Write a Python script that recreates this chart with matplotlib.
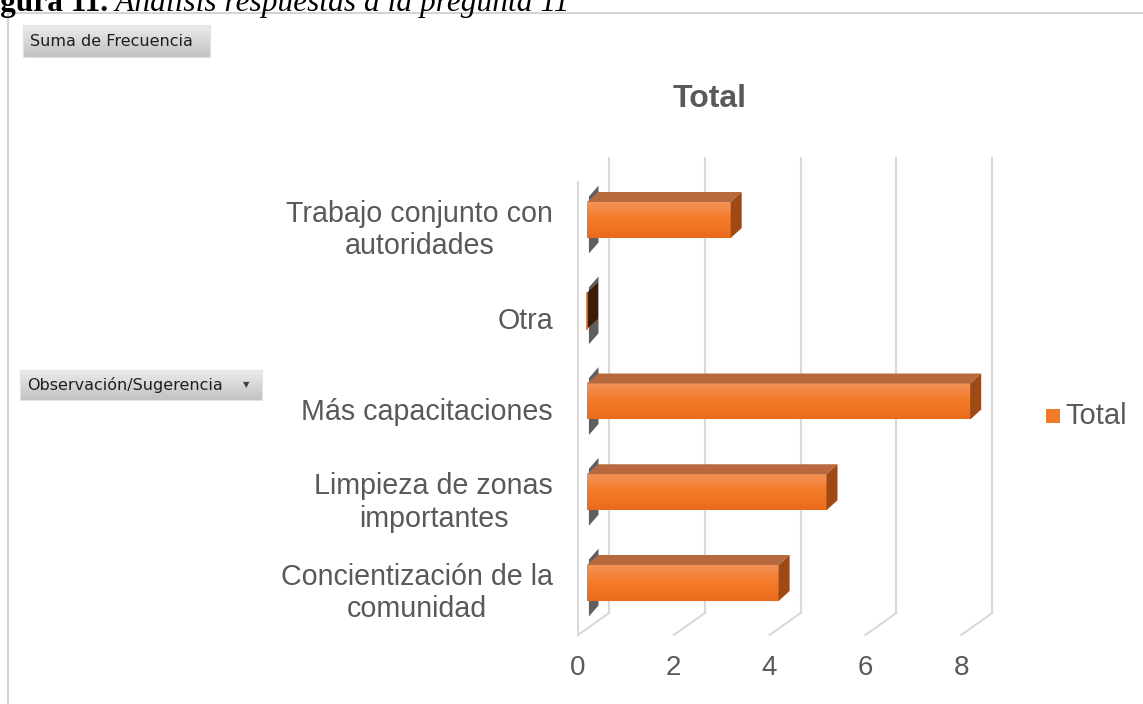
## Figura 11 - grafico dinamico de barras 3D (Suma de Frecuencia)
import numpy as np
import matplotlib.pyplot as plt
from matplotlib.patches import Polygon, Rectangle
from matplotlib.colors import to_rgb

# datos (de abajo hacia arriba)
categorias = ['Concientización de la\ncomunidad', 'Limpieza de zonas\nimportantes',
              'Más capacitaciones', 'Otra', 'Trabajo conjunto con\nautoridades']
frecuencia = [4, 5, 8, 0, 3]
ticks = [0, 2, 4, 6, 8]

W, H = 1143, 704
gris = '#595959'
fig = plt.figure(figsize=(W/100, H/100), dpi=100)

# capa de fondo en pixeles (botones, marco, leyenda de figura)
bg = fig.add_axes([0, 0, 1, 1]); bg.axis('off')
# ejes del grafico: x en unidades de frecuencia, y en categorias
ax = fig.add_axes([0, 0, 1, 1]); ax.axis('off'); ax.patch.set_alpha(0)
pxx = 47.9; pxy = 90.75      # pixeles por unidad
x0px, y0px = 578, 583         # pixel del valor 0 / primera categoria

def gradiente(a, ext, stops, z, vertical=True):
    t = np.linspace(0, 1, 64)
    pos = [s[0] for s in stops]
    cols = np.array([to_rgb(s[1]) for s in stops])
    rgb = np.stack([np.interp(t, pos, cols[:, k]) for k in range(3)], axis=-1)
    img = rgb[:, None, :] if vertical else rgb[None, :, :]
    a.imshow(img, extent=ext, aspect='auto', origin='upper', zorder=z,
             interpolation='bilinear')

# paredes y cuadricula
DX, DY = 31/pxx, 22/pxy
piso_f, piso_b, techo = (y0px-635)/pxy, (y0px-613)/pxy, (y0px-158)/pxy
cg = '#d9d9d9'
ax.plot([0, 0], [piso_f, (y0px-182)/pxy], color=cg, lw=1.5, zorder=1)
for v in ticks:
    ax.plot([v+DX, v+DX], [piso_b, techo], color=cg, lw=1.5, zorder=1)
    ax.plot([v, v+DX], [piso_f, piso_b], color=cg, lw=1.5, zorder=1)
    ax.text(v, (y0px-668)/pxy, str(v), ha='center', va='center',
            fontsize=20, color=gris, family='Liberation Sans')

# barras 3D
b0 = 9/pxx; bh = 36/pxy; bdx, bdy = 11/pxx, 10/pxy
for i, (cat, v) in enumerate(zip(categorias, frecuencia)):
    y1, y2 = i - bh/2, i + bh/2
    # sombra sobre la pared
    ax.add_patch(Polygon([(b0+0.04, y1-0.17), (b0+0.24, y1-0.05), (b0+0.24, y2+0.18),
                          (b0+0.04, y2+0.06)], closed=True, color='#2a2a2a',
                         alpha=0.75, lw=0, zorder=2))
    if v > 0:
        gradiente(ax, (b0, b0+v, y1, y2),
                  [(0, '#f39258'), (0.45, '#f47c2b'), (1, '#ea6b1b')], 4)
        ax.add_patch(Polygon([(b0, y2), (b0+v, y2), (b0+v+bdx, y2+bdy), (b0+bdx, y2+bdy)],
                             closed=True, color='#b86a3e', lw=0, zorder=4))
        lado = '#9c4a17'
    else:
        lado = '#3b1c08'
        ax.plot([b0, b0], [y1, y2], color='#e0702a', lw=1.2, zorder=5)
    ax.add_patch(Polygon([(b0+v, y1), (b0+v+bdx, y1+bdy), (b0+v+bdx, y2+bdy), (b0+v, y2)],
                         closed=True, color=lado, lw=0, zorder=4))
    ax.text((553-x0px)/pxx, i - 10/pxy, cat, ha='right', va='center',
            multialignment='center', linespacing=1.22, fontsize=20.6, color=gris,
            family='Liberation Sans')

# titulo y leyenda
ax.text((710-x0px)/pxx, (y0px-99)/pxy, 'Total', ha='center', va='center',
        fontsize=23, fontweight='bold', color=gris, family='Liberation Sans')
ax.add_patch(Rectangle(((1046-x0px)/pxx, (y0px-423)/pxy), 14/pxx, 14/pxy,
                       color='#f07b2c', lw=0, zorder=4))
ax.text((1065-x0px)/pxx, (y0px-416)/pxy, 'Total', ha='left', va='center',
        fontsize=21, color=gris, family='Liberation Sans')
ax.set_xlim(-x0px/pxx, (W-x0px)/pxx)
ax.set_ylim((y0px-H)/pxy, y0px/pxy)

# marco del area del grafico
bg.plot([8, 8, W], [H, 13, 13], color='#d4d4d4', lw=1.5)

# botones del grafico dinamico
def boton(x1, y1, x2, y2, texto, flecha=False):
    gradiente(bg, (x1, x2, y2, y1), [(0, '#ececec'), (1, '#c2c2c2')], 3)
    bg.add_patch(Rectangle((x1, y1), x2-x1, y2-y1, fill=False, ec='#e2e2e2', lw=0.8, zorder=4))
    bg.text(x1+7, (y1+y2)/2, texto, ha='left', va='center', fontsize=11.5,
            color='#1e1e1e', family='DejaVu Sans', zorder=5)
    if flecha:
        bg.text(x2-16, (y1+y2)/2, '▼', ha='center', va='center', fontsize=6,
                color='#404040', family='DejaVu Sans', zorder=5)

boton(23, 25, 210, 57, 'Suma de Frecuencia')
boton(20, 370, 262, 400, 'Observación/Sugerencia', flecha=True)
bg.set_xlim(0, W); bg.set_ylim(H, 0)

# leyenda de la figura (cortada arriba, como en el original)
r = fig.canvas.get_renderer()
t1 = fig.text(-28/W, 1-11/H, 'Figura 11.', fontsize=22.6, fontweight='bold',
              family='Liberation Serif', va='baseline')
bb = t1.get_window_extent(r)
fig.text(bb.x1/W, 1-11/H, ' Análisis respuestas a la pregunta 11', fontsize=22.6,
         style='italic', family='Liberation Serif', va='baseline')

fig.savefig('out.png', dpi=100)
